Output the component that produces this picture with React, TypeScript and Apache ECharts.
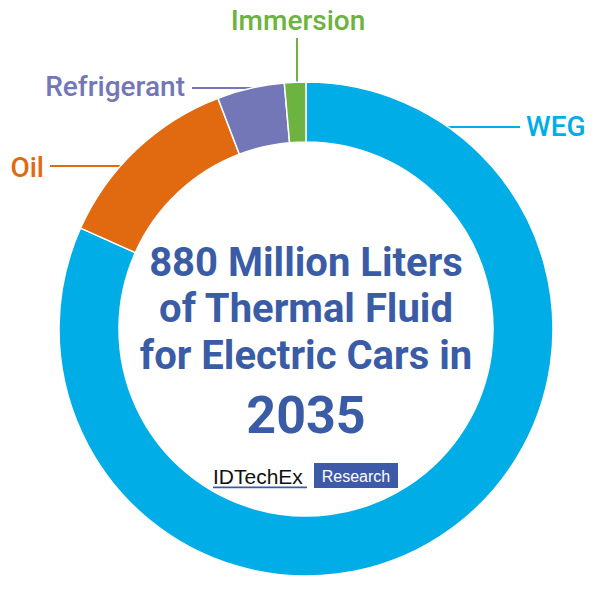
import React, { useEffect, useRef } from "react";
import * as echarts from "echarts";

// Share of thermal fluid volume for electric cars in 2035 (%)
const categories = ["WEG", "Oil", "Refrigerant", "Immersion"];
const shares = [81.7, 12.5, 4.4, 1.4];
const colors = ["#00ade6", "#e1690f", "#7377b8", "#6cb33f"];

const titleLines = ["880 Million Liters", "of Thermal Fluid", "for Electric Cars in"];
const titleYear = "2035";
const brandName = "IDTechEx";
const brandTag = "Research";

// label placement (layout only)
const labelPlacement = [
  { x: 526, y: 126, align: "left", line: [[445, 127], [482, 127], [520, 127]] },
  { x: 44, y: 167, align: "right", line: [[120, 166], [85, 166], [50, 166]] },
  { x: 185, y: 86, align: "right", line: [[260, 88], [226, 88], [192, 88]] },
  { x: 298, y: 20, align: "center", line: [[297, 84], [297, 60], [297, 38]] },
];

export default function App() {
  const ref = useRef<HTMLDivElement>(null);
  useEffect(() => {
    if (!ref.current) return;
    const chart = echarts.init(ref.current, null, { renderer: "svg" });
    const textColor = "#3a5ca6";
    const font = "Roboto, 'Noto Sans', sans-serif";
    chart.setOption({
      animation: false,
      backgroundColor: "#ffffff",
      series: [
        {
          type: "pie",
          center: [306, 329],
          radius: [187, 247],
          startAngle: 90,
          clockwise: true,
          silent: true,
          avoidLabelOverlap: false,
          itemStyle: { borderColor: "#ffffff", borderWidth: 1.5 },
          label: {
            show: true,
            position: "outside",
            formatter: "{b}",
            fontFamily: font,
            fontSize: 28,
            fontWeight: 500,
          },
          labelLine: { show: true, lineStyle: { width: 2 } },
          labelLayout: (params: any) => {
            const p = labelPlacement[params.dataIndex];
            return {
              x: p.x,
              y: p.y,
              align: p.align,
              verticalAlign: "middle",
              labelLinePoints: p.line,
            };
          },
          data: categories.map((name, i) => ({
            name,
            value: shares[i],
            itemStyle: { color: colors[i] },
            label: { color: colors[i] },
            labelLine: { lineStyle: { color: colors[i], width: 2 } },
          })),
        },
      ],
      graphic: [
        ...titleLines.map((t, i) => ({
          type: "text",
          x: 306,
          y: [262, 308, 355][i],
          style: {
            text: t,
            fill: textColor,
            font: `bold 40px ${font}`,
            textAlign: "center",
            textVerticalAlign: "middle",
          },
        })),
        {
          type: "text",
          x: 306,
          y: 415,
          style: {
            text: titleYear,
            fill: textColor,
            font: `bold 52px ${font}`,
            textAlign: "center",
            textVerticalAlign: "middle",
          },
        },
        {
          type: "text",
          x: 213,
          y: 476,
          style: {
            text: brandName,
            fill: "#111111",
            font: "21px 'Liberation Sans', Arial, sans-serif",
            textAlign: "left",
            textVerticalAlign: "middle",
          },
        },
        {
          type: "rect",
          shape: { x: 213, y: 486.5, width: 94, height: 1.8 },
          style: { fill: "#3d5aa9" },
        },
        {
          type: "rect",
          shape: { x: 314, y: 463, width: 84, height: 25 },
          style: { fill: "#3d5aa9" },
        },
        {
          type: "text",
          x: 356,
          y: 476,
          style: {
            text: brandTag,
            fill: "#ffffff",
            font: "16px 'Liberation Sans', Arial, sans-serif",
            textAlign: "center",
            textVerticalAlign: "middle",
          },
        },
      ],
    });
    return () => chart.dispose();
  }, []);
  return (
    <div
      ref={ref}
      style={{ position: "fixed", left: 0, top: 0, width: 600, height: 593 }}
    />
  );
}
